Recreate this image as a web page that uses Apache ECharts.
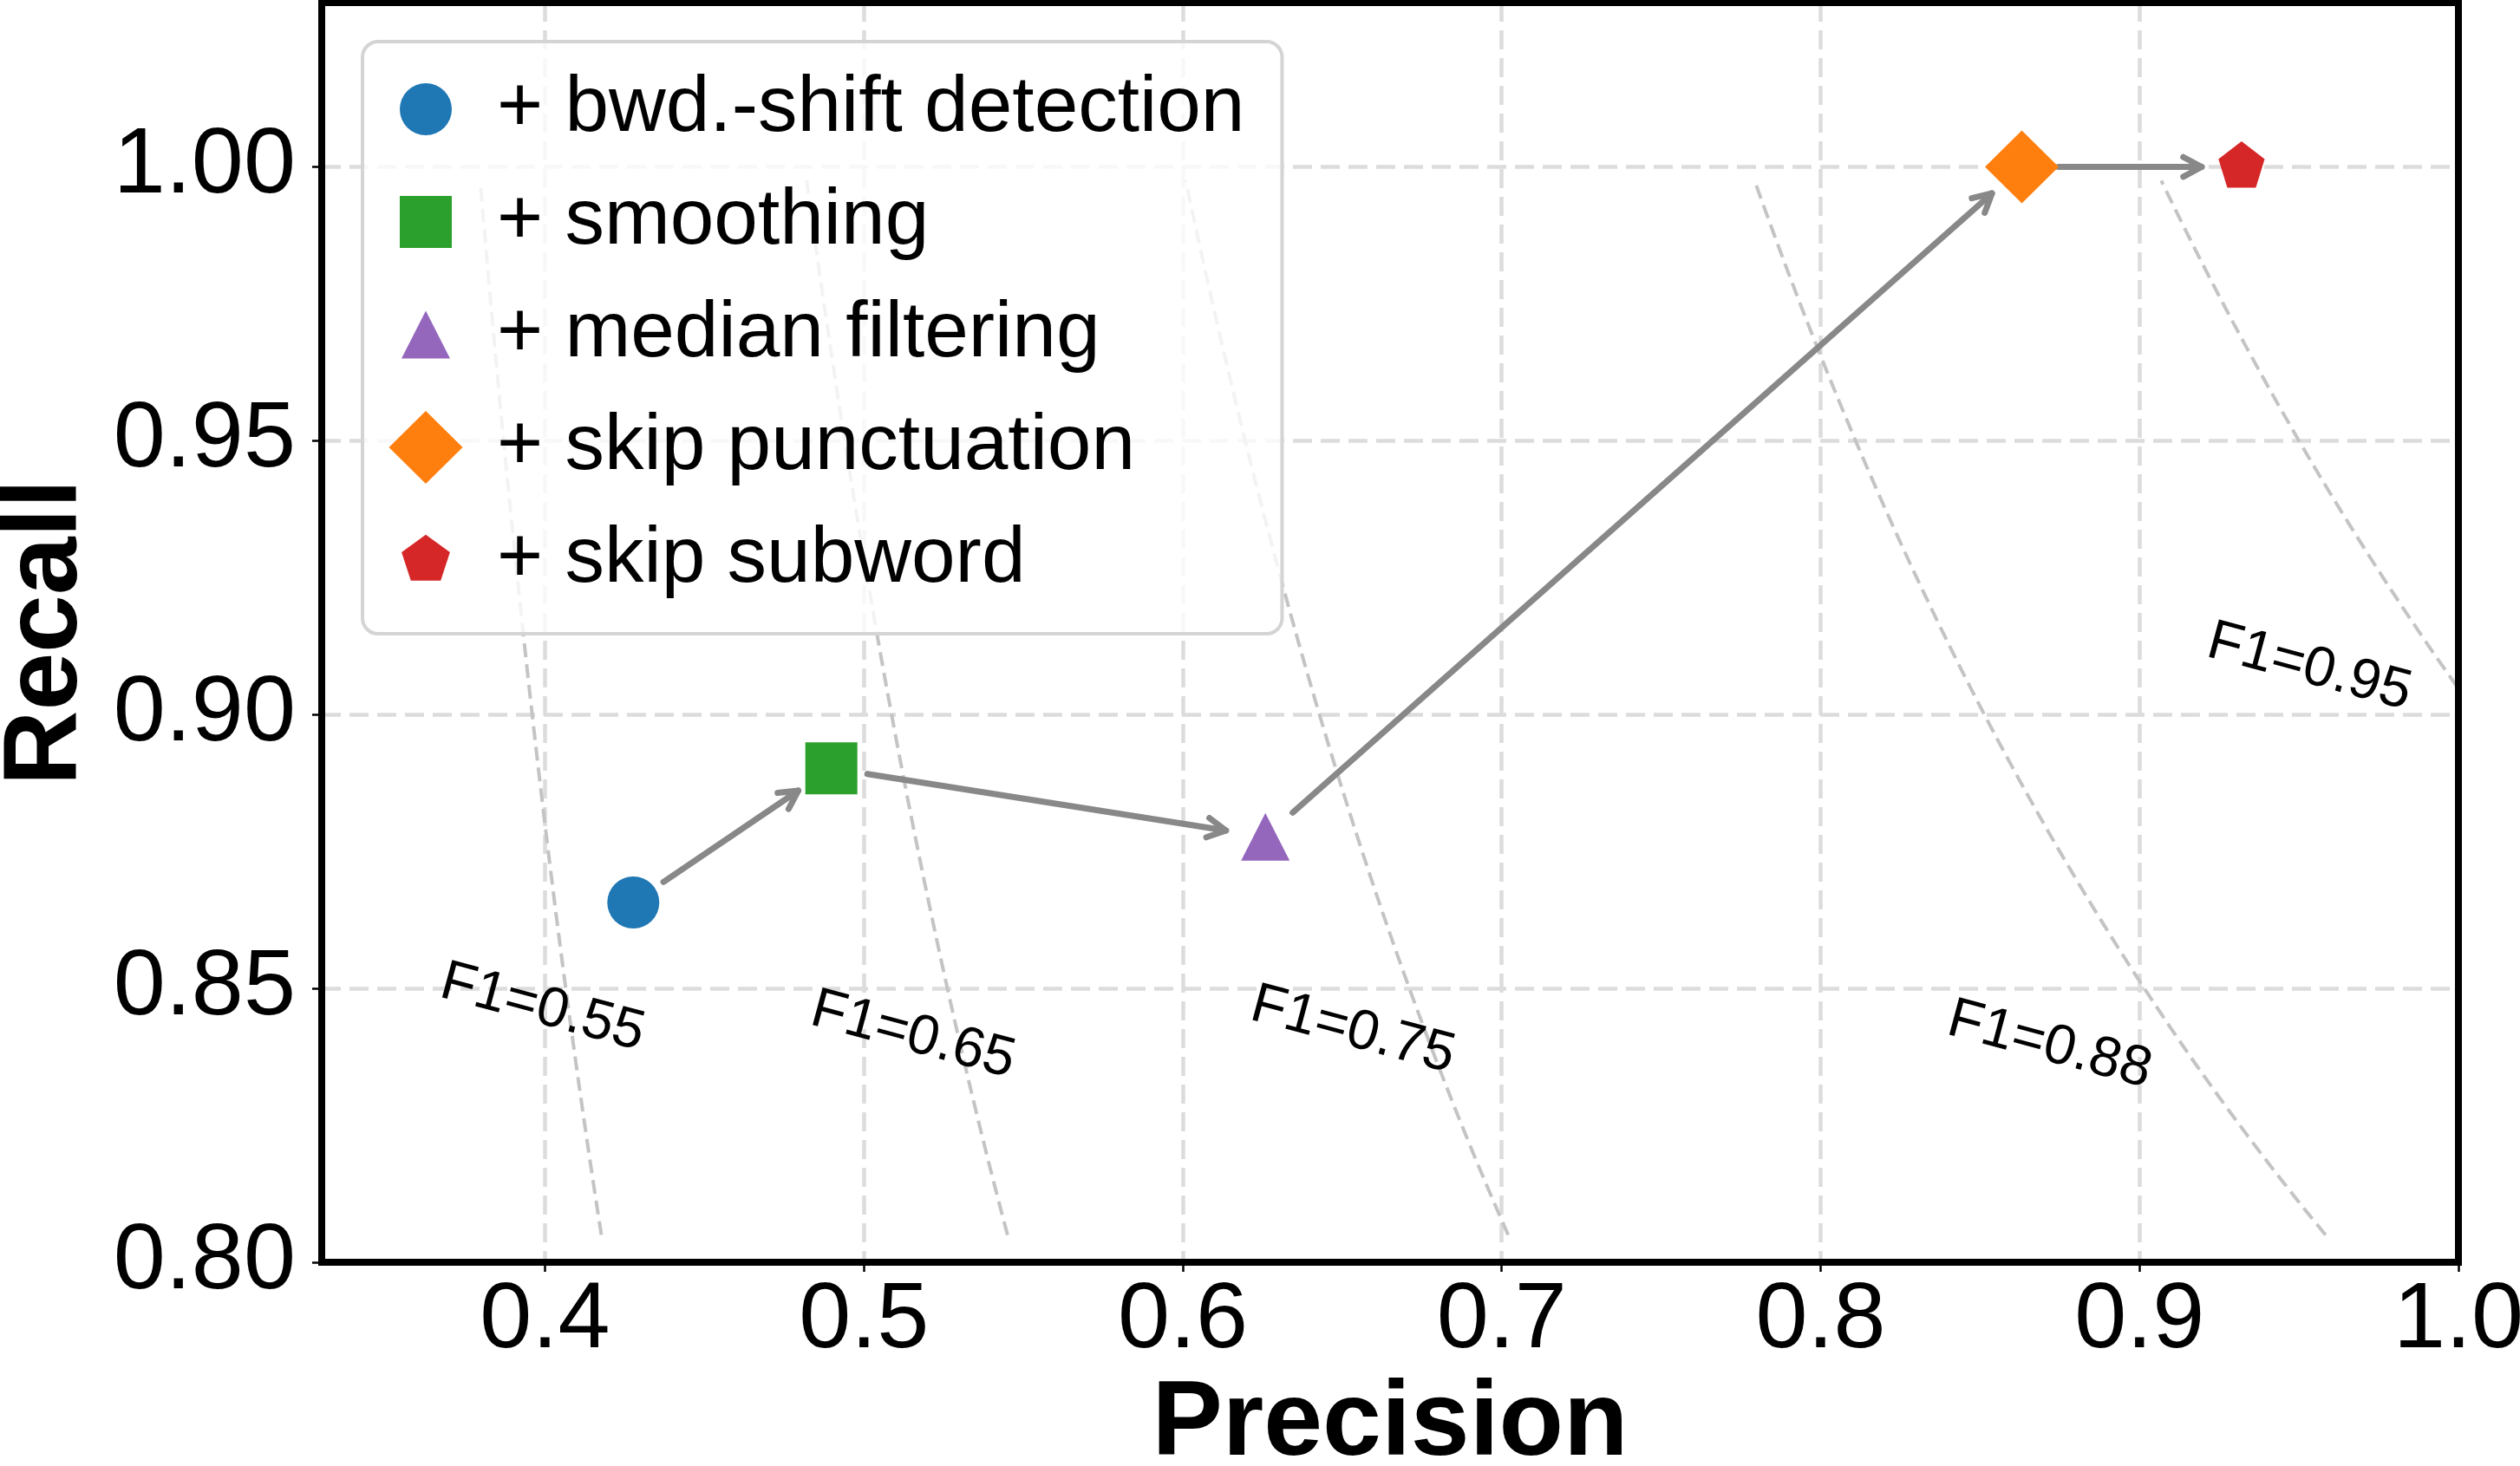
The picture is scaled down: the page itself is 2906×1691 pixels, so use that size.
<!DOCTYPE html>
<html>
<head>
<meta charset="utf-8">
<script src="https://cdn.jsdelivr.net/npm/echarts@6/dist/echarts.min.js"></script>
<style>
  html, body { margin: 0; padding: 0; background: #fff; }
  #chart { width: 2906px; height: 1691px; }
</style>
</head>
<body>
<div id="chart"></div>
<script>
// pipeline steps, one marker each
const stepNames = ['+ bwd.-shift detection', '+ smoothing', '+ median filtering', '+ skip punctuation', '+ skip subword'];
const precision = [0.4277, 0.4898, 0.6259, 0.8631, 0.9320];
const recall = [0.8657, 0.8902, 0.8777, 1.0, 1.0];
const stepColors = ['#1f77b4', '#2ca02c', '#9467bd', '#ff7f0e', '#d62728'];

// iso-F1 reference curves and where their labels sit
const f1Levels = [0.55, 0.65, 0.75, 0.875, 0.95];
const f1Labels = ['F1=0.55', 'F1=0.65', 'F1=0.75', 'F1=0.88', 'F1=0.95'];
const f1LabelP = [0.3992, 0.5154, 0.6533, 0.8718, 0.9532];
const f1LabelR = [0.8464, 0.8414, 0.8423, 0.8396, 0.9086];
const curveRecallRange = [0.805, 0.998];

const xTicks = [0.4, 0.5, 0.6, 0.7, 0.8, 0.9, 1.0];
const yTicks = [0.80, 0.85, 0.90, 0.95, 1.00];

const font = "'Liberation Sans', Arial, sans-serif";
const chart = echarts.init(document.getElementById('chart'));

const pentagon = 'path://M0,-1L0.951,-0.309L0.588,0.809L-0.588,0.809L-0.951,-0.309ZM0,1';
const symbols = ['circle', 'rect', 'triangle', 'diamond', pentagon];
const symbolSizes = [60, 60, [56, 55], [85, 84], [56, 59]];

// legend icons live in a 120x130 box, shape centred at (43,65)
const box = 'M0,0M120,130';
const legendIcons = [
  box + 'M13,65A30,30,0,1,0,73,65A30,30,0,1,0,13,65Z',
  box + 'M13,35L73,35L73,95L13,95Z',
  box + 'M43,37.5L71,92.5L15,92.5Z',
  box + 'M43,23L85.5,65L43,107L0.5,65Z',
  box + 'M43,35.7L70.9,55.9L60.2,88.7L25.8,88.7L15.1,55.9Z'
].map(p => 'path://' + p);

const curveSeries = f1Levels.map(f => {
  const pts = [];
  for (let r = curveRecallRange[0]; r <= curveRecallRange[1] + 1e-9; r += 0.0025) {
    pts.push([f * r / (2 * r - f), r]);
  }
  return {
    type: 'line',
    data: pts,
    showSymbol: false,
    silent: true,
    clip: true,
    z: 1,
    lineStyle: { color: '#c4c4c4', width: 4, type: [16, 8] }
  };
});

const stepSeries = stepNames.map((name, i) => ({
  name: name,
  type: 'scatter',
  data: [[precision[i], recall[i]]],
  symbol: symbols[i],
  symbolSize: symbolSizes[i],
  symbolKeepAspect: true,
  itemStyle: { color: stepColors[i], opacity: 1 },
  silent: true,
  z: 4
}));

const arrowData = precision.slice(0, -1).map((p, i) => [p, recall[i], precision[i + 1], recall[i + 1]]);

const arrowSeries = {
  type: 'custom',
  data: arrowData,
  encode: { x: [0, 2], y: [1, 3] },
  silent: true,
  z: 3,
  renderItem: function (params, api) {
    const a = api.coord([api.value(0), api.value(1)]);
    const b = api.coord([api.value(2), api.value(3)]);
    const dx = b[0] - a[0], dy = b[1] - a[1];
    const len = Math.hypot(dx, dy);
    const ux = dx / len, uy = dy / len;
    const s = [a[0] + ux * 42, a[1] + uy * 42];
    const e = [b[0] - ux * 46, b[1] - uy * 46];
    const head = 24, ang = 28 * Math.PI / 180;
    const c = Math.cos(ang), sn = Math.sin(ang);
    const vx = -ux, vy = -uy;
    const h1 = [e[0] + head * (vx * c - vy * sn), e[1] + head * (vx * sn + vy * c)];
    const h2 = [e[0] + head * (vx * c + vy * sn), e[1] + head * (-vx * sn + vy * c)];
    const st = { stroke: '#888888', lineWidth: 7, lineCap: 'round', lineJoin: 'round', fill: null };
    return {
      type: 'group',
      children: [
        { type: 'line', shape: { x1: s[0], y1: s[1], x2: e[0], y2: e[1] }, style: st },
        { type: 'polyline', shape: { points: [h1, e, h2] }, style: st }
      ]
    };
  }
};

const labelSeries = {
  type: 'custom',
  data: f1LabelP.map((p, i) => [p, f1LabelR[i], i]),
  silent: true,
  z: 5,
  renderItem: function (params, api) {
    const pt = api.coord([api.value(0), api.value(1)]);
    return {
      type: 'text',
      x: pt[0],
      y: pt[1],
      rotation: -15 * Math.PI / 180,
      style: {
        text: f1Labels[api.value(2)],
        fontSize: 65,
        fontFamily: font,
        fill: '#000',
        align: 'center',
        verticalAlign: 'middle'
      }
    };
  }
};

const gridLine = { show: true, lineStyle: { color: '#dcdcdc', width: 4.5, type: [22, 10] } };

chart.setOption({
  animation: false,
  backgroundColor: '#fff',
  textStyle: { fontFamily: font },
  grid: {
    left: 371, right: 71, top: 3, bottom: 235,
    outerBoundsMode: 'none',
    containLabel: false,
    show: true, borderColor: '#000', borderWidth: 8, backgroundColor: 'transparent',
    z: 6
  },
  legend: {
    orient: 'vertical',
    left: 418,
    top: 48,
    padding: [13, 43, 20, 30],
    itemWidth: 120,
    itemHeight: 130,
    itemGap: 0,
    selectedMode: false,
    backgroundColor: 'rgba(255,255,255,0.8)',
    borderColor: '#d4d4d4',
    borderWidth: 4,
    borderRadius: 18,
    textStyle: { fontSize: 91, color: '#000', fontFamily: font },
    data: stepNames.map((n, i) => ({ name: n, icon: legendIcons[i] })),
    z: 10
  },
  xAxis: {
    type: 'value',
    min: 0.33,
    max: 1.0,
    name: 'Precision',
    nameLocation: 'middle',
    nameGap: 120,
    nameTextStyle: { fontSize: 122, fontWeight: 'bold', color: '#000', fontFamily: font },
    axisLine: { lineStyle: { color: '#000', width: 8 } },
    axisTick: { show: true, length: 11, customValues: xTicks, lineStyle: { color: '#000', width: 2.5 } },
    axisLabel: {
      customValues: xTicks, fontSize: 108, color: '#000', margin: 14,
      formatter: v => v.toFixed(1)
    },
    splitLine: gridLine
  },
  yAxis: {
    type: 'value',
    min: 0.80,
    max: 1.03,
    name: 'Recall',
    nameLocation: 'middle',
    nameRotate: 90,
    nameGap: 256,
    nameTextStyle: { fontSize: 120, fontWeight: 'bold', color: '#000', fontFamily: font },
    axisLine: { lineStyle: { color: '#000', width: 8 } },
    axisTick: { show: true, length: 11, customValues: yTicks, lineStyle: { color: '#000', width: 2.5 } },
    axisLabel: {
      customValues: yTicks, fontSize: 108, color: '#000', margin: 30,
      formatter: v => v.toFixed(2)
    },
    splitLine: gridLine
  },
  series: [...curveSeries, arrowSeries, ...stepSeries, labelSeries]
});
</script>
</body>
</html>
